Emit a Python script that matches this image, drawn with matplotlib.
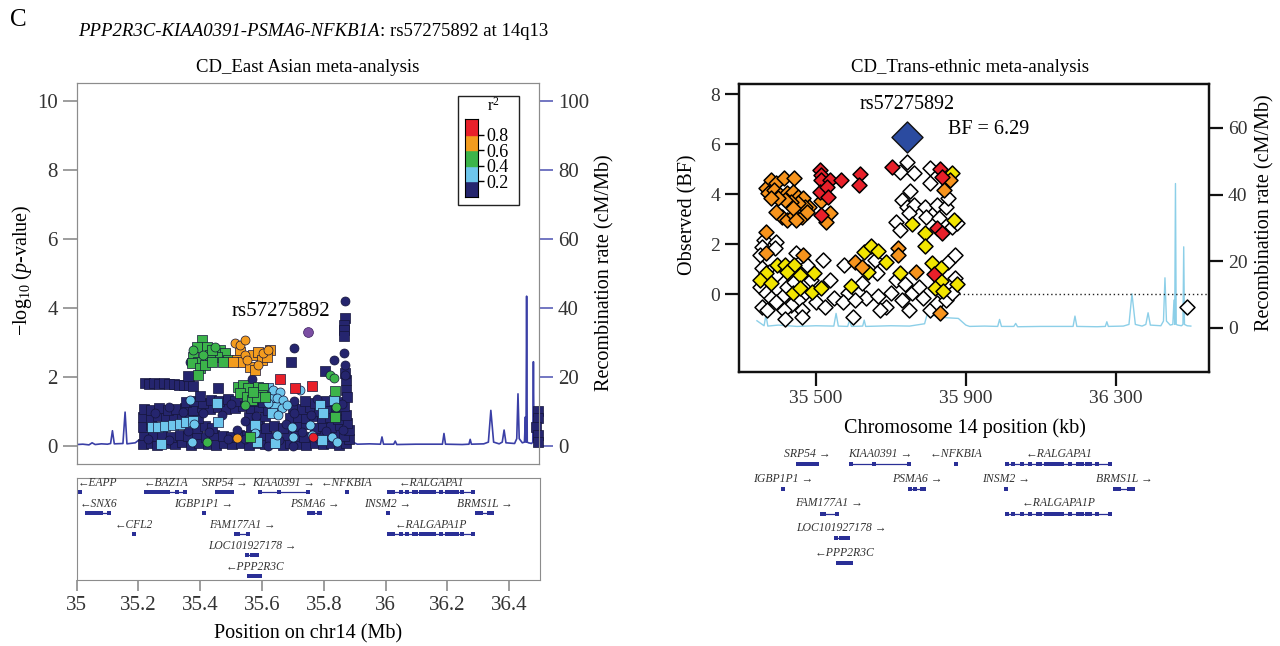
import numpy as np
import matplotlib
matplotlib.use("Agg")
import matplotlib.pyplot as plt
from matplotlib.patches import Rectangle

plt.rcParams['font.family'] = ['Liberation Serif', 'DejaVu Serif']
plt.rcParams['mathtext.fontset'] = 'custom'
plt.rcParams['mathtext.rm'] = 'Liberation Serif'
plt.rcParams['mathtext.it'] = 'Liberation Serif:italic'

# ---------------- data: East Asian panel (Mb, -log10 p) ----------------
navy_sq = [(35.215, 0.05), (35.24, 0.08), (35.262, 0.03), (35.29, 0.06), (35.318, 0.04), (35.34, 0.09),
           (35.37, 0.02), (35.398, 0.07), (35.425, 0.05), (35.452, 0.03), (35.478, 0.08), (35.505, 0.04),
           (35.532, 0.06), (35.56, 0.02), (35.588, 0.07), (35.612, 0.04), (35.64, 0.06), (35.668, 0.03),
           (35.692, 0.08), (35.72, 0.05), (35.745, 0.03), (35.772, 0.07), (35.80, 0.04), (35.826, 0.06),
           (35.85, 0.03), (35.874, 0.07), (35.884, 0.2),
           (35.218, 0.3), (35.248, 0.27), (35.276, 0.32), (35.305, 0.25), (35.335, 0.3), (35.362, 0.28),
           (35.39, 0.33), (35.418, 0.26), (35.446, 0.31), (35.474, 0.28), (35.50, 0.24), (35.526, 0.32),
           (35.552, 0.27), (35.6, 0.3), (35.628, 0.26), (35.682, 0.32), (35.71, 0.28), (35.736, 0.25),
           (35.79, 0.3), (35.815, 0.27), (35.842, 0.33), (35.866, 0.28), (35.882, 0.45),
           (35.215, 0.55), (35.24, 0.6), (35.39, 0.5), (35.415, 0.58), (35.44, 0.52), (35.565, 0.55),
           (35.59, 0.6), (35.615, 0.52), (35.64, 0.58), (35.668, 0.5), (35.72, 0.56), (35.745, 0.62),
           (35.772, 0.5), (35.8, 0.57), (35.825, 0.53), (35.855, 0.6), (35.878, 0.65),
           (35.215, 0.82), (35.24, 0.78), (35.265, 0.85), (35.29, 0.8), (35.315, 0.83), (35.342, 0.79),
           (35.368, 0.86), (35.395, 0.8), (35.56, 0.82), (35.585, 0.78), (35.61, 0.85), (35.692, 0.8),
           (35.718, 0.84), (35.745, 0.79), (35.77, 0.86), (35.796, 0.8), (35.82, 0.84), (35.848, 0.78),
           (35.872, 0.88),
           (35.218, 1.05), (35.242, 1.02), (35.268, 1.08), (35.295, 1.04), (35.322, 1.07), (35.35, 1.1),
           (35.378, 1.04), (35.405, 1.12), (35.432, 1.06), (35.458, 1.13), (35.485, 1.05), (35.512, 1.1),
           (35.538, 1.15), (35.565, 1.08), (35.592, 1.12), (35.62, 1.02), (35.70, 1.1), (35.73, 1.05),
           (35.758, 1.12), (35.785, 1.0), (35.812, 1.08), (35.84, 1.04), (35.868, 1.15),
           (35.355, 1.25), (35.382, 1.3), (35.41, 1.24), (35.436, 1.32), (35.462, 1.28), (35.49, 1.35),
           (35.515, 1.3), (35.548, 1.36), (35.578, 1.28), (35.605, 1.25), (35.74, 1.28), (35.772, 1.22),
           (35.81, 1.3), (35.85, 1.25),
           (35.22, 1.8), (35.236, 1.79), (35.252, 1.8), (35.268, 1.79), (35.284, 1.8), (35.3, 1.78),
           (35.316, 1.79), (35.332, 1.77), (35.348, 1.76), (35.364, 1.75), (35.378, 1.72),
           (35.362, 2.02), (35.40, 1.44), (35.459, 1.68), (35.695, 2.43), (35.805, 2.15), (35.871, 3.69),
           (35.868, 3.5), (35.867, 3.35), (35.868, 3.18), (35.872, 1.6), (35.874, 1.9), (35.87, 2.1),
           (35.876, 1.4),
           (36.495, 1.0), (36.496, 0.8), (36.49, 0.55), (36.495, 0.3), (36.496, 0.1)]
navy_o = [(35.23, 0.18), (35.3, 0.15), (35.36, 0.42), (35.43, 0.4), (35.49, 0.18), (35.52, 0.45),
          (35.545, 0.7), (35.545, 0.18), (35.58, 0.85), (35.655, 0.15), (35.68, 0.62), (35.705, 0.95),
          (35.73, 0.4), (35.76, 0.9), (35.785, 0.18), (35.81, 0.42), (35.835, 0.9), (35.862, 0.45),
          (35.345, 0.98), (35.41, 0.95), (35.47, 0.9), (35.5, 1.2), (35.64, 1.2), (35.705, 1.3),
          (35.78, 1.35), (35.3, 1.12), (35.255, 0.95), (35.367, 2.43), (35.568, 1.92), (35.705, 2.84),
          (35.871, 4.2), (35.834, 2.48), (35.868, 2.68), (35.87, 2.34), (35.87, 2.05), (35.86, 1.2),
          (35.7, -0.02), (35.62, -0.02)]
lblue_sq = [(35.243, 0.55), (35.265, 0.53), (35.286, 0.57), (35.313, 0.6), (35.335, 0.63), (35.356, 0.67),
            (35.378, 0.72), (35.622, 1.66), (35.632, 1.42), (35.643, 1.13), (35.632, 0.94), (35.454, 1.23),
            (35.459, 0.69), (35.578, 0.6), (35.643, 0.07), (35.795, 0.16), (35.275, 0.05), (35.584, 0.11),
            (35.789, 1.18), (35.834, 1.33), (35.80, 0.95)]
lblue_o = [(35.638, 1.61), (35.659, 1.56), (35.649, 1.37), (35.67, 1.32), (35.622, 1.23), (35.665, 1.08),
           (35.681, 1.18), (35.654, 0.89), (35.724, 1.61), (35.367, 1.32), (35.38, 0.62), (35.578, 0.36),
           (35.649, 0.31), (35.697, 0.55), (35.703, 0.26), (35.757, 0.6), (35.762, 0.31), (35.827, 0.26),
           (35.843, 0.11), (35.373, 0.11)]
green_sq = [(35.405, 3.06), (35.389, 2.87), (35.421, 2.87), (35.465, 2.77), (35.481, 2.67), (35.492, 2.48),
            (35.454, 2.58), (35.432, 2.63), (35.378, 2.58), (35.394, 2.43), (35.373, 2.38), (35.40, 2.24),
            (35.394, 2.05), (35.416, 2.34), (35.438, 2.43), (35.475, 2.43), (35.438, 2.77), (35.524, 1.71),
            (35.54, 1.76), (35.557, 1.66), (35.53, 1.52), (35.551, 1.42), (35.567, 1.32), (35.589, 1.71),
            (35.605, 1.66), (35.6, 1.47), (35.584, 1.42), (35.573, 1.56), (35.611, 1.42), (35.837, 1.57),
            (35.837, 0.84), (35.562, 0.26)]
green_o = [(35.448, 2.87), (35.41, 2.63), (35.378, 2.77), (35.546, 1.18), (35.823, 2.05), (35.834, 1.95),
           (35.84, 1.13), (35.421, 0.11)]
orange_sq = [(35.53, 2.72), (35.519, 2.48), (35.535, 2.43), (35.562, 2.29), (35.578, 2.19), (35.573, 2.63),
             (35.589, 2.72), (35.6, 2.48), (35.627, 2.77), (35.616, 2.58), (35.508, 2.43)]
orange_o = [(35.513, 2.96), (35.53, 2.92), (35.546, 3.06), (35.546, 2.63), (35.551, 2.48), (35.605, 2.67),
            (35.622, 2.77), (35.589, 2.34), (35.519, 0.21)]
red_sq = [(35.658, 1.92), (35.708, 1.68), (35.762, 1.74)]
red_o = [(35.766, 0.26)]
lead_snp = (35.751, 3.29)

# recombination rate (Mb, cM/Mb), shared by both panels
rec_mb = [35.000, 35.02, 35.04, 35.05, 35.06, 35.08, 35.10, 35.110, 35.116, 35.122, 35.150, 35.157,
          35.163, 35.19, 35.20, 35.215, 35.23, 35.27, 35.30, 35.343, 35.362, 35.367, 35.372, 35.40,
          35.45, 35.50, 35.548, 35.554, 35.560, 35.585, 35.590, 35.595, 35.625, 35.629, 35.633, 35.70,
          35.75, 35.79, 35.80, 35.805, 35.81, 35.83, 35.85, 35.88, 35.90, 35.91, 35.95, 35.985, 35.990,
          35.995, 36.028, 36.033, 36.038, 36.10, 36.186, 36.191, 36.196, 36.25, 36.272, 36.276, 36.280,
          36.32, 36.335, 36.343, 36.352, 36.37, 36.380, 36.386, 36.392, 36.42, 36.427, 36.431, 36.435,
          36.445, 36.452, 36.455, 36.457, 36.459, 36.461, 36.465, 36.475, 36.479, 36.481, 36.483, 36.49,
          36.50]
rec_rate = [0.3, 0.4, 0.2, 0.8, 0.3, 0.5, 0.4, 0.6, 4.3, 0.5, 0.6, 9.7,
            0.5, 0.8, 1.5, 0.6, 0.9, 0.4, 0.7, 2.1, 0.6, 3.8, 0.5, 0.8,
            0.4, 0.6, 0.5, 4.3, 0.5, 0.4, 2.3, 0.4, 0.5, 2.3, 0.4, 0.6,
            0.5, 1.2, 5.3, 3.0, 3.8, 3.2, 3.0, 2.8, 0.8, 0.4, 0.5, 0.4, 2.5,
            0.4, 0.4, 1.3, 0.3, 0.4, 0.4, 3.5, 0.4, 0.3, 0.4, 1.8, 0.4,
            0.5, 1.0, 10.2, 1.0, 0.5, 1.0, 4.5, 0.8, 0.6, 2.0, 15.0, 2.0,
            0.8, 1.0, 8.3, 1.0, 43.3, 1.0, 0.8, 0.6, 1.0, 24.3, 1.0, 0.6,
            0.5]

# ---------------- data: trans-ethnic panel (kb, BF) ----------------
te_white = [(35362, 2.17), (35395, 2.10), (35357, 1.90), (35390, 1.84), (35352, 1.57), (35357, 1.04),
            (35376, 0.90), (35395, 0.77), (35352, 0.30), (35367, 0.04), (35381, -0.16), (35357, -0.50),
            (35371, -0.63), (35395, -0.30), (35414, -0.03), (35424, 0.30), (35443, 0.50), (35448, 1.64),
            (35462, 1.37), (35476, 1.17), (35519, 1.37), (35538, 0.57), (35486, 0.57), (35471, 0.04),
            (35452, -0.23), (35433, -0.43), (35414, -0.63), (35462, -0.63), (35419, -1.0), (35462, -0.92),
            (35500, -0.30), (35524, -0.50), (35548, -0.16), (35576, 1.17), (35586, 0.04), (35572, -0.30),
            (35598, -0.92), (35614, 0.04), (35624, 0.44), (35633, -0.16), (35605, -0.23), (35657, 1.37),
            (35662, 0.84), (35667, -0.09), (35686, -0.50), (35671, -0.63), (35700, 0.04), (35714, 0.57),
            (35729, -0.23), (35748, -0.63), (35757, 0.04), (35738, 0.41), (35776, 0.30), (35786, -0.16),
            (35805, -0.63), (35824, -0.36), (35848, -0.23), (35862, 0.04), (35871, 0.64), (35852, 1.30),
            (35871, 1.57), (35743, 5.30), (35724, 4.90), (35762, 4.84), (35729, 3.77), (35752, 4.13),
            (35743, 3.50), (35762, 3.57), (35748, 3.24), (35714, 2.90), (35724, 2.57), (35791, 3.50),
            (35795, 3.10), (35805, 5.04), (35805, 4.44), (35824, 3.57), (35848, 3.50), (35852, 3.84),
            (35829, 3.04), (35862, 2.70), (35876, 2.84), (36490, -0.50)]
te_yellow = [(35367, 0.84), (35352, 0.57), (35381, 0.44), (35397, 1.17), (35419, 1.17), (35441, 1.17),
             (35424, 0.90), (35457, 0.77), (35495, 0.84), (35438, 0.04), (35457, 0.24), (35490, 0.08),
             (35514, 0.24), (35595, 0.33), (35629, 1.70), (35648, 1.94), (35667, 1.73), (35638, 0.90),
             (35688, 1.30), (35724, 0.84), (35757, 2.81), (35791, 2.44), (35791, 1.94), (35810, 1.24),
             (35835, 1.06), (35834, 0.51), (35819, 0.24), (35838, 0.14), (35876, 0.41), (35869, 2.97),
             (35862, 4.84)]
te_orange = [(35367, 4.24), (35381, 4.57), (35395, 4.44), (35414, 4.64), (35443, 4.66), (35372, 4.04),
             (35388, 4.17), (35405, 3.97), (35424, 4.04), (35438, 4.10), (35452, 3.90), (35467, 3.84),
             (35481, 3.50), (35471, 3.50), (35452, 3.64), (35433, 3.70), (35419, 3.77), (35400, 3.84),
             (35381, 3.84), (35410, 3.10), (35424, 2.97), (35443, 3.17), (35462, 3.10), (35476, 3.30),
             (35395, 3.30), (35438, 3.44), (35448, 2.97), (35367, 2.50), (35367, 1.64), (35467, 1.57),
             (35514, 3.74), (35538, 3.26), (35527, 2.90), (35605, 1.30), (35624, 1.10), (35719, 1.84),
             (35719, 1.57), (35767, 0.90), (35857, 4.57), (35843, 4.17), (35831, -0.76)]
te_red = [(35510, 4.97), (35514, 4.77), (35514, 4.57), (35510, 4.10), (35538, 4.57), (35529, 4.30),
          (35533, 3.90), (35567, 4.57), (35514, 3.17), (35619, 4.81), (35616, 4.37), (35703, 5.08),
          (35831, 5.00), (35836, 4.70), (35822, 2.64), (35836, 2.44), (35816, 0.80)]
te_lead = (35744, 6.29)

# ---------------- genes (Mb) ----------------
gene_name = ['EAPP', 'BAZ1A', 'SRP54', 'KIAA0391', 'NFKBIA', 'RALGAPA1',
             'SNX6', 'IGBP1P1', 'PSMA6', 'INSM2', 'BRMS1L',
             'CFL2', 'FAM177A1', 'RALGAPA1P', 'LOC101927178', 'PPP2R3C']
gene_start = [35.001, 35.224, 35.453, 35.594, 35.873, 36.011,
              35.034, 35.411, 35.751, 36.006, 36.297,
              35.183, 35.516, 36.011, 35.553, 35.558]
gene_end = [35.012, 35.351, 35.504, 35.748, 35.877, 36.284,
            35.105, 35.413, 35.789, 36.009, 36.346,
            35.186, 35.556, 36.284, 35.585, 35.594]
gene_row = [1, 1, 1, 1, 1, 1, 2, 2, 2, 2, 2, 3, 3, 3, 4, 5]
gene_strand = ['-', '-', '+', '+', '-', '-', '-', '+', '+', '+', '+', '-', '+', '-', '+', '-']
ralgapa_exons = [36.011, 36.025, 36.049, 36.07, 36.092, 36.097, 36.114, 36.124, 36.135, 36.146,
                 36.157, 36.178, 36.2, 36.211, 36.222, 36.232, 36.249, 36.284]
gene_exons = {
    'EAPP': [35.003, 35.010], 'BAZ1A': [35.226, 35.237, 35.246, 35.253, 35.261, 35.269, 35.284, 35.297, 35.324, 35.351],
    'SRP54': [35.453, 35.464, 35.475, 35.484, 35.494, 35.504], 'KIAA0391': [35.594, 35.654, 35.748],
    'NFKBIA': [35.875], 'RALGAPA1': ralgapa_exons, 'SNX6': [35.034, 35.042, 35.051, 35.06, 35.069, 35.08, 35.105],
    'IGBP1P1': [35.412], 'PSMA6': [35.751, 35.764, 35.783, 35.789], 'INSM2': [36.007],
    'BRMS1L': [36.297, 36.308, 36.335, 36.346], 'CFL2': [35.184], 'FAM177A1': [35.516, 35.522, 35.556],
    'RALGAPA1P': ralgapa_exons, 'LOC101927178': [35.553, 35.567, 35.576, 35.585],
    'PPP2R3C': [35.558, 35.567, 35.574, 35.583, 35.594]}

r2_colors = ['#25256e', '#6ec6ec', '#3cb44a', '#f39c1e', '#e8202a']
r2_ticks = [0.2, 0.4, 0.6, 0.8]
te_xticks = [35500, 35900, 36300]
te_xticklabels = ['35 500', '35 900', '36 300']

GREY = '#8c8c8c'
GENE_BLUE = '#2a2f96'


def xy(pts):
    a = np.array(pts, dtype=float)
    return a[:, 0], a[:, 1]


def draw_genes(ax, keep_from, scale, fs):
    for i, name in enumerate(gene_name):
        if gene_start[i] < keep_from:
            continue
        r = gene_row[i]
        s, e = gene_start[i] * scale, gene_end[i] * scale
        ax.plot([s, e], [r, r], color=GENE_BLUE, lw=0.9, solid_capstyle='butt')
        ex = np.array(gene_exons[name]) * scale
        ax.plot(ex, [r] * len(ex), ls='none', marker='s', ms=2.8, color=GENE_BLUE, mew=0)
        txt = '\u2190' + name if gene_strand[i] == '-' else name + ' \u2192'
        cx = (s + e) / 2
        ha = 'center'
        if gene_start[i] < 35.03:
            cx, ha = ax.get_xlim()[0] + 0.004 * scale, 'left'
        ax.text(cx, r - 0.42, txt, ha=ha, va='center', fontsize=fs, style='italic', color='#333333')


fig = plt.figure(figsize=(12.8, 6.46), dpi=100)

# ---------------- left: East Asian ----------------
ax1 = fig.add_axes([0.0599, 0.2825, 0.3614, 0.5885])
ax1r = ax1.twinx()
ax1.set_zorder(ax1r.get_zorder() + 1)
ax1.patch.set_visible(False)
ax1.set_xlim(35.0, 36.5)
ax1.set_ylim(-0.52, 10.5)
ax1r.set_ylim(-5.2, 105)
ax1r.plot(rec_mb, rec_rate, color='#3a3fa6', lw=1.2)

groups = [(navy_sq, 's', r2_colors[0]), (navy_o, 'o', r2_colors[0]),
          (lblue_sq, 's', r2_colors[1]), (lblue_o, 'o', r2_colors[1]),
          (green_sq, 's', r2_colors[2]), (green_o, 'o', r2_colors[2]),
          (orange_sq, 's', r2_colors[3]), (orange_o, 'o', r2_colors[3]),
          (red_sq, 's', r2_colors[4]), (red_o, 'o', r2_colors[4])]
for pts, mk, col in groups:
    x, y = xy(pts)
    ax1.scatter(x, y, marker=mk, s=42, c=col, edgecolors='#15153a', linewidths=0.5, clip_on=False)
ax1.scatter([lead_snp[0]], [lead_snp[1]], marker='o', s=50, c='#7b4ea3', edgecolors='#3a2060', linewidths=0.5)
ax1.text(35.662, 3.9, 'rs57275892', fontsize=15, ha='center', va='center')

ax1.set_xticks([])
ax1.set_yticks(range(0, 11, 2))
for a in (ax1, ax1r):
    for sp in a.spines.values():
        sp.set_color(GREY)
ax1.tick_params(axis='y', colors=GREY, labelcolor='#333333', labelsize=15, length=10, width=1.2)
ax1r.set_yticks(range(0, 101, 20))
ax1r.tick_params(axis='y', colors='#5a5fb8', labelcolor='#333333', labelsize=15, length=10, width=1.2)

# r^2 legend
box = Rectangle((457.7 / 1280, 1 - 205.3 / 646), 61.6 / 1280, 109.6 / 646, transform=fig.transFigure,
                facecolor='white', edgecolor='#222222', lw=1.0, zorder=10)
fig.add_artist(box)
cax = fig.add_axes([465 / 1280, 1 - 197 / 646, 13 / 1280, 78 / 646])
cax.set_zorder(20)
for i, c in enumerate(r2_colors):
    cax.add_patch(Rectangle((0, i * 0.2), 1, 0.2, color=c))
cax.set_xlim(0, 1)
cax.set_ylim(0, 1)
cax.set_xticks([])
cax.yaxis.tick_right()
cax.set_yticks(r2_ticks)
cax.set_yticklabels([f'{t:.1f}' for t in r2_ticks])
cax.tick_params(axis='y', length=4, width=1, pad=2, labelsize=13)
fig.text(493 / 1280, 1 - 106 / 646, 'r$^2$', fontsize=12, ha='center', va='center', zorder=30)

# gene panel
axg = fig.add_axes([0.0599, 0.1022, 0.362, 0.1579])
axg.set_xlim(35.0, 36.5)
axg.set_ylim(5.19, 0.32)
draw_genes(axg, 0, 1, 8.3)
axg.set_yticks([])
gt = [35, 35.2, 35.4, 35.6, 35.8, 36, 36.2, 36.4]
axg.set_xticks(gt)
axg.set_xticklabels(['35', '35.2', '35.4', '35.6', '35.8', '36', '36.2', '36.4'])
axg.tick_params(axis='x', colors=GREY, labelcolor='#333333', labelsize=15, length=8, width=1.2)
for sp in axg.spines.values():
    sp.set_color(GREY)

# ---------------- right: trans-ethnic ----------------
ax2 = fig.add_axes([0.5773, 0.4246, 0.3674, 0.4449])
ax2r = ax2.twinx()
ax2.set_zorder(ax2r.get_zorder() + 1)
ax2.patch.set_visible(False)
ax2.set_xlim(35295, 36549)
ax2.set_ylim(-3.1, 8.4)
ax2r.set_ylim(-13.2, 73.1)
rm = np.array(rec_mb) * 1000
rr = np.array(rec_rate)
sel = rm >= 35343
ax2r.plot(rm[sel], rr[sel], color='#8ccfe8', lw=1.0)
ax2.plot([35881, 36549], [0, 0], ls=(0, (1, 2)), color='#222222', lw=1.0)

for pts, face in [(te_white, 'white'), (te_yellow, '#f2e500'), (te_orange, '#f7941d'), (te_red, '#e8202a')]:
    x, y = xy(pts)
    ax2.scatter(x, y, marker='D', s=58, c=face, edgecolors='black', linewidths=1.1, clip_on=False)
ax2.scatter([te_lead[0]], [te_lead[1]], marker='D', s=250, c='#2b4ba0', edgecolors='#111111', linewidths=1.0)
ax2.text(35743, 7.6, 'rs57275892', fontsize=14.5, ha='center', va='center')
ax2.text(35853, 6.6, 'BF = 6.29', fontsize=14.5, ha='left', va='center')

ax2.set_yticks(range(0, 9, 2))
ax2.set_xticks(te_xticks)
ax2.set_xticklabels(te_xticklabels)
ax2r.set_yticks(range(0, 61, 20))
for a in (ax2, ax2r):
    for sp in a.spines.values():
        sp.set_linewidth(1.6)
        sp.set_color('#111111')
    a.tick_params(labelsize=14, length=10, width=1.6, colors='#111111', labelcolor='#333333')

axg2 = fig.add_axes([0.5773, 0.1099, 0.3674, 0.2012])
axg2.set_xlim(35295, 36549)
axg2.set_ylim(5.49, 0.21)
draw_genes(axg2, 35.4, 1000, 8.5)
axg2.axis('off')

# ---------------- titles & labels ----------------
fig.text(10 / 1280, 1 - 20 / 646, 'C', fontsize=18, va='center', ha='left')
t1 = fig.text(78 / 1280, 1 - 32 / 646, 'PPP2R3C-KIAA0391-PSMA6-NFKB1A', fontsize=13.5, style='italic',
              va='center', ha='left')
ax1.annotate(': rs57275892 at 14q13', xy=(1, 0.5), xycoords=t1, va='center', ha='left', fontsize=13.5,
             annotation_clip=False)
fig.text(308 / 1280, 1 - 67 / 646, 'CD_East Asian meta-analysis', fontsize=13.5, ha='center', va='center')
fig.text(970 / 1280, 1 - 67 / 646, 'CD_Trans-ethnic meta-analysis', fontsize=13.5, ha='center', va='center')
fig.text(22 / 1280, 1 - 270 / 646, '\u2212log$_{10}$ ($p$-value)', fontsize=14.5, rotation=90,
         ha='center', va='center')
fig.text(605 / 1280, 1 - 273 / 646, 'Recombination rate (cM/Mb)', fontsize=14.5, rotation=90,
         ha='center', va='center')
fig.text(308 / 1280, 1 - 634 / 646, 'Position on chr14 (Mb)', fontsize=14.5, ha='center', va='center')
fig.text(688 / 1280, 1 - 215 / 646, 'Observed (BF)', fontsize=14.5, rotation=90, ha='center', va='center')
fig.text(1265 / 1280, 1 - 213 / 646, 'Recombination rate (cM/Mb)', fontsize=14.5, rotation=90,
         ha='center', va='center')
fig.text(965 / 1280, 1 - 428 / 646, 'Chromosome 14 position (kb)', fontsize=14.5, ha='center', va='center')

fig.savefig('out.png', dpi=100)
